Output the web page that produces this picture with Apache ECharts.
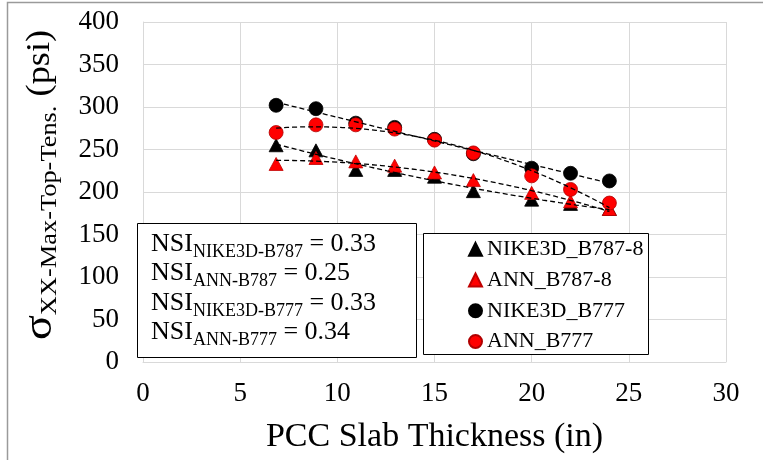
<!DOCTYPE html>
<html>
<head>
<meta charset="utf-8">
<script src="https://cdn.jsdelivr.net/npm/echarts@6/dist/echarts.min.js"></script>
<style>
  html, body { margin: 0; padding: 0; background: #fff; }
  #chart { width: 763px; height: 460px; }
</style>
</head>
<body>
<div id="chart"></div>
<script>
// Slab thickness (in) for each analysis case
const thickness = [6.85, 8.9, 10.95, 12.95, 15, 17, 20, 22, 24];

// Maximum top tensile stress sigma_xx (psi)
const nike3dB787 = [255, 249, 226, 226, 218, 201, 191, 186, 180];
const annB787    = [233, 240, 236, 231, 223, 214, 199, 189, 180];
const nike3dB777 = [302, 298, 281, 276, 262, 245, 228, 222, 213];
const annB777    = [270, 279, 279, 274, 261, 246, 219, 203, 187];

const seriesNames = ['NIKE3D_B787-8', 'ANN_B787-8', 'NIKE3D_B777', 'ANN_B777'];

// Sensitivity index annotations: [subscript, value]
const nsiRows = [
  ['NIKE3D-B787', '0.33'],
  ['ANN-B787', '0.25'],
  ['NIKE3D-B777', '0.33'],
  ['ANN-B777', '0.34']
];

const SERIF = "'Liberation Serif', 'Times New Roman', serif";

// Second-order polynomial least-squares fit (trendline)
function quadFit(xs, ys) {
  let s0 = 0, s1 = 0, s2 = 0, s3 = 0, s4 = 0, t0 = 0, t1 = 0, t2 = 0;
  xs.forEach((x, i) => {
    const y = ys[i];
    s0 += 1; s1 += x; s2 += x * x; s3 += x * x * x; s4 += x * x * x * x;
    t0 += y; t1 += x * y; t2 += x * x * y;
  });
  const A = [[s0, s1, s2, t0], [s1, s2, s3, t1], [s2, s3, s4, t2]];
  for (let c = 0; c < 3; c++) {
    let p = c;
    for (let r = c + 1; r < 3; r++) if (Math.abs(A[r][c]) > Math.abs(A[p][c])) p = r;
    [A[c], A[p]] = [A[p], A[c]];
    for (let r = 0; r < 3; r++) {
      if (r === c) continue;
      const f = A[r][c] / A[c][c];
      for (let k = c; k < 4; k++) A[r][k] -= f * A[c][k];
    }
  }
  const a = A[0][3] / A[0][0], b = A[1][3] / A[1][1], c2 = A[2][3] / A[2][2];
  return x => a + b * x + c2 * x * x;
}

function trendData(xs, ys) {
  const f = quadFit(xs, ys);
  const x0 = Math.min(...xs), x1 = Math.max(...xs);
  const out = [];
  const n = 60;
  for (let i = 0; i <= n; i++) {
    const x = x0 + (x1 - x0) * i / n;
    out.push([x, f(x)]);
  }
  return out;
}

const pairs = ys => thickness.map((x, i) => [x, ys[i]]);

const markerDefs = [
  { name: seriesNames[0], data: nike3dB787, symbol: 'triangle', size: [14, 13], color: '#000000', border: '#000000' },
  { name: seriesNames[1], data: annB787,    symbol: 'triangle', size: [14, 13], color: '#ff0000', border: '#c00000' },
  { name: seriesNames[2], data: nike3dB777, symbol: 'circle',   size: 14,       color: '#000000', border: '#000000' },
  { name: seriesNames[3], data: annB777,    symbol: 'circle',   size: 14,       color: '#ff0000', border: '#b00000' }
];

const series = [];
markerDefs.forEach((d, i) => {
  series.push({
    name: d.name,
    type: 'scatter',
    data: pairs(d.data),
    symbol: d.symbol,
    symbolSize: d.size,
    itemStyle: { color: d.color, borderColor: d.border, borderWidth: 0.8, opacity: 1 },
    z: 2 + i * 0.1
  });
});
markerDefs.forEach(d => {
  series.push({
    name: d.name + ' trend',
    type: 'line',
    data: trendData(thickness, d.data),
    showSymbol: false,
    smooth: false,
    silent: true,
    lineStyle: { color: '#000', width: 1.3, type: [5, 3] },
    z: 4
  });
});

const graphics = [
  // outer chart frame
  { type: 'rect', shape: { x: 7.5, y: 2.5, width: 800, height: 500 },
    style: { fill: 'none', stroke: '#9a9a9a', lineWidth: 1.5 }, z: 1, silent: true },
  // NSI annotation box
  { type: 'rect', shape: { x: 137.5, y: 223.5, width: 279, height: 134 },
    style: { fill: '#fff', stroke: '#000', lineWidth: 1 }, z: 5, silent: true },
  // legend box
  { type: 'rect', shape: { x: 423.5, y: 233.5, width: 225, height: 121 },
    style: { fill: '#fff', stroke: '#000', lineWidth: 1 }, z: 5, silent: true },
  // y-axis title
  { type: 'text', x: 40, y: 185, rotation: Math.PI / 2, scaleX: 1.1, z: 6, silent: true,
    style: {
      text: '{sig|σ}{sub|XX-Max-Top-Tens.}{m| (psi)}',
      align: 'center', verticalAlign: 'middle',
      rich: {
        sig: { fontFamily: SERIF, fontSize: 42, lineHeight: 44, fill: '#000' },
        sub: { fontFamily: SERIF, fontSize: 24, lineHeight: 20, verticalAlign: 'bottom', fill: '#000' },
        m:   { fontFamily: SERIF, fontSize: 33, lineHeight: 44, fill: '#000' }
      }
    } }
];

nsiRows.forEach((row, i) => {
  graphics.push({
    type: 'text', x: 151, y: 227 + i * 29.5, z: 6, silent: true,
    style: {
      text: '{m|NSI}{s|' + row[0] + '}{m| = ' + row[1] + '}',
      align: 'left', verticalAlign: 'top',
      rich: {
        m: { fontFamily: SERIF, fontSize: 26, lineHeight: 34, fill: '#000' },
        s: { fontFamily: SERIF, fontSize: 18, lineHeight: 17, verticalAlign: 'bottom', fill: '#000' }
      }
    }
  });
});

const chart = echarts.init(document.getElementById('chart'), null, { renderer: 'canvas' });
chart.setOption({
  animation: false,
  backgroundColor: '#fff',
  grid: { left: 143, right: 37, top: 22, bottom: 98, containLabel: false },
  xAxis: {
    type: 'value', min: 0, max: 30, interval: 5,
    name: 'PCC Slab Thickness (in)', nameLocation: 'middle', nameGap: 58,
    nameTextStyle: { fontFamily: SERIF, fontSize: 34, color: '#000' },
    axisLine: { show: true, lineStyle: { color: '#d9d9d9', width: 1 } },
    axisTick: { show: false },
    axisLabel: { fontFamily: SERIF, fontSize: 27, color: '#000', margin: 18 },
    splitLine: { show: true, lineStyle: { color: '#d9d9d9', width: 1 } }
  },
  yAxis: {
    type: 'value', min: 0, max: 400, interval: 50,
    axisLine: { show: true, lineStyle: { color: '#d9d9d9', width: 1 } },
    axisTick: { show: false },
    axisLabel: { fontFamily: SERIF, fontSize: 27, color: '#000', margin: 24 },
    splitLine: { show: true, lineStyle: { color: '#d9d9d9', width: 1 } }
  },
  legend: {
    data: seriesNames,
    orient: 'vertical',
    left: 468, top: 234,
    itemWidth: 13, itemHeight: 13, itemGap: 0,
    padding: 0,
    z: 10,
    textStyle: { fontFamily: SERIF, fontSize: 22, color: '#000', lineHeight: 30.7 }
  },
  graphic: graphics,
  series: series
});
</script>
</body>
</html>
